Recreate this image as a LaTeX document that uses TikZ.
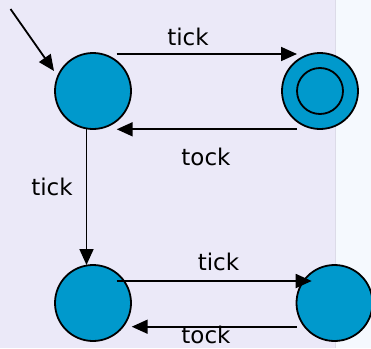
\documentclass[tikz,border=0pt]{standalone}
\usepackage{fontspec}
\setmainfont{DejaVu Sans}
\usetikzlibrary{arrows.meta,calc}
\definecolor{bgleft}{HTML}{EBE9F8}
\definecolor{bgright}{HTML}{F5F9FE}
\definecolor{sepline}{HTML}{DCDBE8}
\definecolor{statefill}{HTML}{0099CC}
\tikzset{
  state/.style={circle,draw=black,fill=statefill,line width=1.8pt,minimum size=76pt,inner sep=0pt},
  arr/.style={line width=1.8pt,-{Triangle[length=16pt,width=14pt]}},
  lbl/.style={anchor=base,inner sep=0pt,font=\fontsize{23}{26}\selectfont}
}
\begin{document}
\begin{tikzpicture}[x=1pt,y=-1pt]
\useasboundingbox (0,0) rectangle (371,348);
\fill[bgleft] (0,0) rectangle (335,348);
\fill[bgright] (335,0) rectangle (371,348);
\draw[sepline,line width=0.8pt] (335.3,0) -- (335.3,348);
\node[state] (A) at (93,91) {};
\node[state] (B) at (320,91) {};
\node[circle,draw=black,line width=1.8pt,minimum size=46pt,inner sep=0pt] (Bin) at (B) {};
\node[state] (C) at (93,303) {};
\node[state] (D) at (334.5,303) {};
\coordinate (init) at (10.5,9);
\draw[arr] (init) -- ($(A)+(-39,-20)$);
\draw[arr] ($(A)+(23.7,-37)$) -- ($(B)+(-23,-37)$);
\draw[arr] ($(B)+(-23,38.3)$) -- ($(A)+(23.7,38.3)$);
\draw[arr] ($(A)+(-6.5,38)$) -- ($(C)+(-6.5,-38)$);
\draw[arr] ($(C)+(23.7,-22)$) -- ($(D)+(-22.8,-22)$);
\draw[arr] ($(D)+(-37.5,23.7)$) -- ($(C)+(38.7,23.7)$);
\node[lbl] (l1) at (188,45) {tick};
\node[lbl] (l2) at (206,165) {tock};
\node[lbl] (l3) at (52,195) {tick};
\node[lbl] (l4) at (218.5,270) {tick};
\node[lbl] (l5) at (206,343) {tock};
\end{tikzpicture}
\end{document}
